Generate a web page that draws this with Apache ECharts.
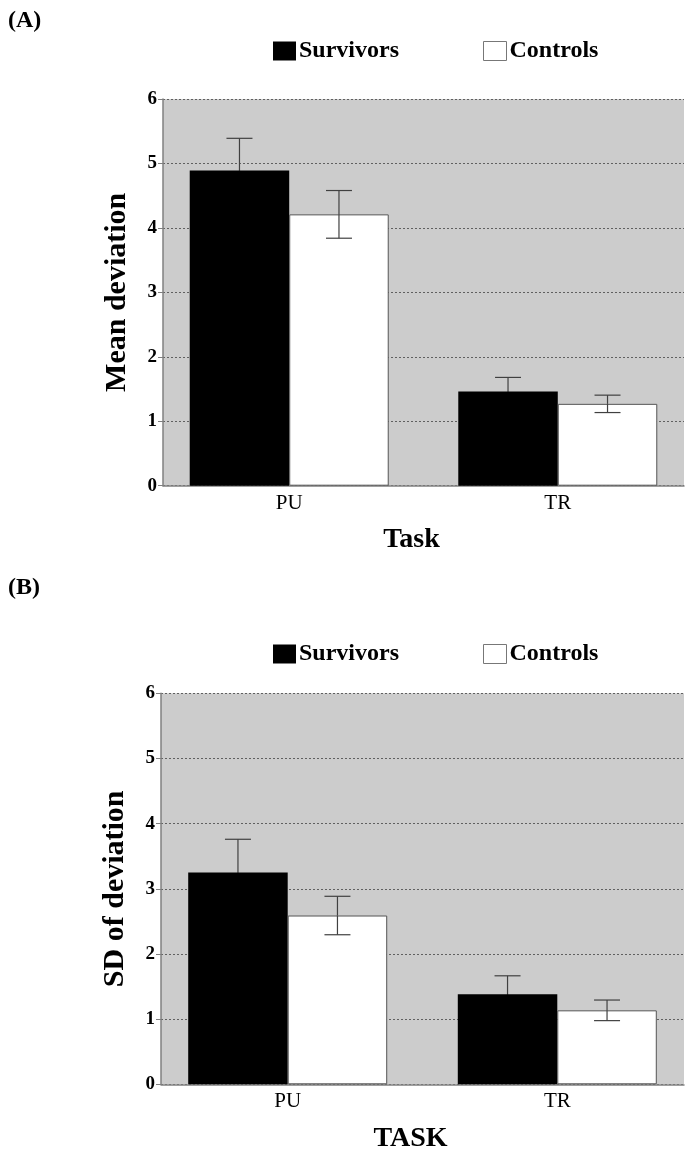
<!DOCTYPE html>
<html><head><meta charset="utf-8">
<script src="https://cdn.jsdelivr.net/npm/echarts@6/dist/echarts.min.js"></script>
<style>html,body{margin:0;padding:0;background:#fff}#c{width:685px;height:1154px}</style>
</head><body><div id="c"></div>
<script>
const categories = ['PU', 'TR'];
const seriesNames = ['Survivors', 'Controls'];
const yTicks = [0, 1, 2, 3, 4, 5, 6];
// Panel A: Mean deviation
const survivorsMeanA = [4.89, 1.46];
const survivorsErrA  = [0.50, 0.22];
const controlsMeanA  = [4.21, 1.27];
const controlsErrA   = [0.37, 0.135];
// Panel B: SD of deviation
const survivorsMeanB = [3.25, 1.38];
const survivorsErrB  = [0.51, 0.285];
const controlsMeanB  = [2.59, 1.135];
const controlsErrB   = [0.295, 0.158];

const BAR_W = 99.5;
const CAP_W = 26;
const FONT = '"Liberation Serif","Times New Roman",serif';

function barData(vals){ return vals.map((v,i)=>[i, v]); }
function errData(vals, errs){ return vals.map((v,i)=>[i, v-errs[i], v+errs[i], v]); }
function errRender(sign, lowerColor){
  return function(params, api){
    const x = api.value(0);
    const lo = api.coord([x, api.value(1)]);
    const hi = api.coord([x, api.value(2)]);
    const mid = api.coord([x, api.value(3)]);
    const px = lo[0] + sign*BAR_W/2;
    const st = {stroke:'#404040', lineWidth:1.2};
    const st2 = {stroke:lowerColor, lineWidth:1.2};
    return {type:'group', children:[
      {type:'line', shape:{x1:px, y1:mid[1], x2:px, y2:hi[1]}, style:st},
      {type:'line', shape:{x1:px-CAP_W/2, y1:hi[1], x2:px+CAP_W/2, y2:hi[1]}, style:st},
      {type:'line', shape:{x1:px, y1:lo[1], x2:px, y2:mid[1]}, style:st2},
      {type:'line', shape:{x1:px-CAP_W/2, y1:lo[1], x2:px+CAP_W/2, y2:lo[1]}, style:st2}
    ]};
  };
}
function xAxisCfg(gridIndex, name){
  return {
    type:'value', gridIndex, min:-0.47, max:1.47,
    name, nameLocation:'middle', nameGap:40,
    nameTextStyle:{fontFamily:FONT, fontWeight:'bold', fontSize:28, color:'#000', padding:[0,24,0,0]},
    axisLine:{show:true, onZero:false, lineStyle:{color:'#808080', width:1.5}},
    axisTick:{show:false},
    splitLine:{show:false},
    axisLabel:{customValues:[0,1], formatter:(v)=>categories[Math.round(v)] || '', fontFamily:FONT, fontSize:21, color:'#000', margin:7}
  };
}
function yAxisCfg(gridIndex, name){
  return {
    type:'value', gridIndex, min:yTicks[0], max:yTicks[yTicks.length-1], interval:1,
    name, nameLocation:'middle', nameGap:31,
    nameTextStyle:{fontFamily:FONT, fontWeight:'bold', fontSize:30, color:'#000'},
    axisLine:{show:true, onZero:false, lineStyle:{color:'#808080', width:1.5}},
    axisTick:{show:true, length:5, lineStyle:{color:'#808080'}},
    splitLine:{show:true, lineStyle:{color:'#606060', type:[2,2], width:1}},
    axisLabel:{fontFamily:FONT, fontWeight:'bold', fontSize:19, color:'#000', margin:6}
  };
}
const survStyle = {color:'#000', borderColor:'#000', borderWidth:0};
const ctrlStyle = {color:'#fff', borderColor:'#555', borderWidth:1};

function legendCfg(top){
  return {
    top, left:268, itemWidth:23, itemHeight:19, itemGap:84, icon:'rect',
    data:[{name:'Survivors', itemStyle:{color:'#000', borderWidth:0}}, {name:'Controls', itemStyle:{color:'#fff', borderColor:'#777', borderWidth:1}}],
    textStyle:{fontFamily:FONT, fontWeight:'bold', fontSize:24, color:'#000', padding:[0,0,0,-2]},
    selectedMode:false
  };
}

const option = {
  animation:false,
  backgroundColor:'#fff',
  title:[
    {text:'(A)', left:3, top:4, textStyle:{fontFamily:FONT, fontWeight:'bold', fontSize:24, color:'#000'}},
    {text:'(B)', left:3, top:571, textStyle:{fontFamily:FONT, fontWeight:'bold', fontSize:24, color:'#000'}}
  ],
  legend:[legendCfg(34), legendCfg(637)],
  grid:[
    {left:163, top:99, width:521, height:386.7, show:true, backgroundColor:'#cccccc', borderWidth:0},
    {left:161, top:693.3, width:523, height:391, show:true, backgroundColor:'#cccccc', borderWidth:0}
  ],
  xAxis:[xAxisCfg(0,'Task'), xAxisCfg(1,'TASK')],
  yAxis:[yAxisCfg(0,'Mean deviation'), yAxisCfg(1,'SD of deviation')],
  series:[
    {name:seriesNames[0], type:'bar', xAxisIndex:0, yAxisIndex:0, barWidth:BAR_W, barGap:'0%', itemStyle:survStyle, data:barData(survivorsMeanA)},
    {name:seriesNames[1], type:'bar', xAxisIndex:0, yAxisIndex:0, barWidth:BAR_W, barGap:'0%', itemStyle:ctrlStyle, data:barData(controlsMeanA)},
    {name:seriesNames[0], type:'bar', xAxisIndex:1, yAxisIndex:1, barWidth:BAR_W, barGap:'0%', itemStyle:survStyle, data:barData(survivorsMeanB)},
    {name:seriesNames[1], type:'bar', xAxisIndex:1, yAxisIndex:1, barWidth:BAR_W, barGap:'0%', itemStyle:ctrlStyle, data:barData(controlsMeanB)},
    {type:'custom', xAxisIndex:0, yAxisIndex:0, z:5, renderItem:errRender(-1,'#000'), encode:{x:0, y:[1,2]}, data:errData(survivorsMeanA, survivorsErrA)},
    {type:'custom', xAxisIndex:0, yAxisIndex:0, z:5, renderItem:errRender(1,'#404040'), encode:{x:0, y:[1,2]}, data:errData(controlsMeanA, controlsErrA)},
    {type:'custom', xAxisIndex:1, yAxisIndex:1, z:5, renderItem:errRender(-1,'#000'), encode:{x:0, y:[1,2]}, data:errData(survivorsMeanB, survivorsErrB)},
    {type:'custom', xAxisIndex:1, yAxisIndex:1, z:5, renderItem:errRender(1,'#404040'), encode:{x:0, y:[1,2]}, data:errData(controlsMeanB, controlsErrB)}
  ]
};
const chart = echarts.init(document.getElementById('c'), null, {renderer:'canvas'});
chart.setOption(option);
</script>
</body></html>
